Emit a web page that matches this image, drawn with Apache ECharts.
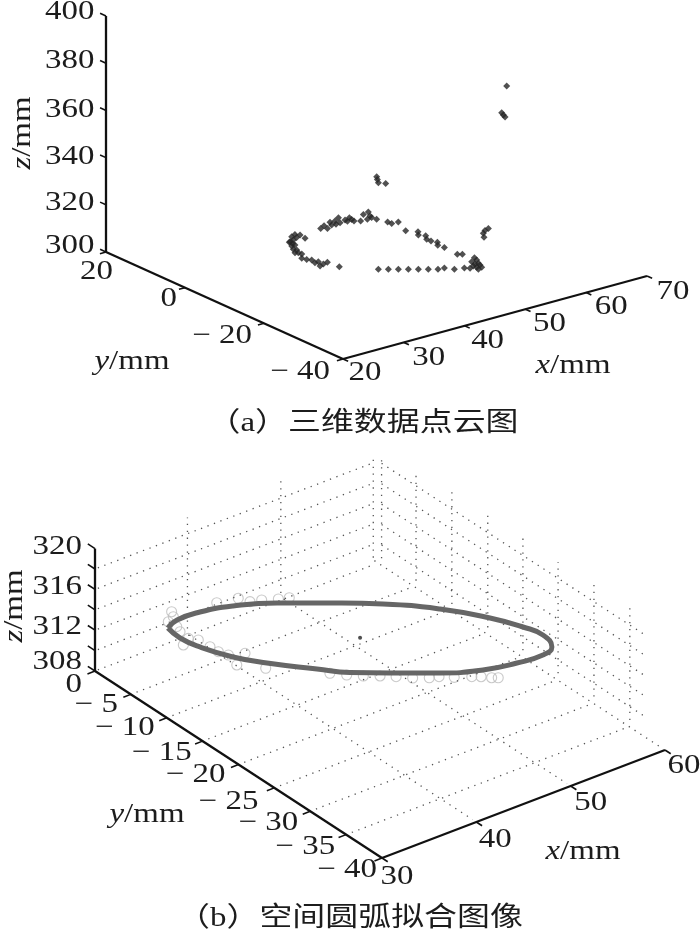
<!DOCTYPE html>
<html><head><meta charset="utf-8">
<style>html,body{margin:0;padding:0;background:#fff}#c{width:700px;height:935px}</style>
<script src="https://cdn.jsdelivr.net/npm/echarts@6/dist/echarts.min.js"></script>
</head><body><div id="c"></div>
<script>
// ---------- data (x mm, y mm, z mm) ----------
const cloudUpperArc=[[49.53,-0.96,312],[48.49,-1.30,312],[48.80,-2.52,312],[47.77,-3.42,312],[48.66,-3.14,312],[48.72,-4.31,312],[46.70,-3.37,312],[46.02,-2.73,312],[46.16,-1.93,312],[46.30,-1.13,312],[45.27,-2.22,312],[45.33,-1.53,312],[45.18,-0.08,312],[44.21,-1.99,312],[43.42,-2.18,312],[44.07,-0.92,312],[43.26,-0.91,312],[42.82,-2.00,312],[41.63,-2.76,312],[41.89,-1.51,312],[40.94,-2.12,312]];
const cloudDescending=[[49.24,-6.29,312],[49.35,-7.15,312],[50.34,-7.31,312],[49.13,-11.04,312],[50.16,-12.57,312],[49.44,-13.77,312],[50.04,-14.70,312],[49.31,-16.07,312],[49.37,-17.07,312],[49.72,-18.14,312],[49.08,-19.22,312],[49.30,-20.56,312],[49.04,-24.24,312],[49.56,-24.72,312]];
const cloudCorner=[[50.04,-27.03,312],[49.75,-28.06,312],[48.85,-28.17,312],[49.16,-29.39,312],[48.66,-29.31,312],[48.95,-30.13,312],[48.04,-29.85,312],[48.08,-30.62,312],[48.59,-31.10,312],[47.80,-31.48,312],[47.17,-30.34,312],[46.66,-29.69,312]];
const cloudBottomRow=[[37.55,-21.94,312],[38.57,-22.90,312],[39.60,-23.85,312],[40.62,-24.81,312],[41.65,-25.76,312],[42.67,-26.71,312],[43.66,-27.64,312],[44.61,-27.78,312],[45.34,-29.19,312]];
const cloudLeftArc=[[37.07,-4.12,312],[37.31,-2.48,312],[36.94,-1.76,312],[36.07,-2.27,312],[36.43,-2.97,312],[34.77,-3.86,312],[35.49,-3.58,312],[34.66,-4.69,312],[34.55,-4.02,312],[33.96,-5.53,312],[34.52,-5.49,312],[33.37,-6.84,312],[33.56,-7.40,312],[32.78,-8.17,312],[33.12,-8.49,312],[33.17,-9.28,312],[32.19,-10.79,312],[32.47,-11.62,312],[32.83,-12.32,312],[32.56,-13.57,312],[33.13,-13.54,312],[32.33,-15.22,312],[33.12,-14.84,312],[33.91,-14.64,312],[34.15,-17.29,312]];
const cloudOutliers=[[66.59,-9.73,360],[60.02,-18.57,360],[59.66,-19.55,360],[59.38,-20.41,360],[46.08,-8.38,335],[45.54,-9.39,335],[44.89,-10.64,335],[45.49,-11.57,335],[53.84,-24.72,320],[53.04,-25.10,320],[52.19,-25.98,320],[51.35,-27.44,320]];
const fittedRing=[[35.10,-3.46,312],[36.53,-2.85,312],[38.88,-2.95,312],[41.71,-3.84,312],[44.96,-5.70,312],[49.17,-8.95,312],[51.94,-11.29,312],[55.24,-14.91,312],[57.66,-18.69,312],[58.94,-21.60,312],[59.45,-23.71,312],[58.82,-25.79,312],[57.40,-26.41,312],[54.84,-26.15,312],[51.85,-25.34,312],[48.68,-23.54,312],[45.33,-20.96,312],[42.70,-18.84,312],[40.86,-16.66,312],[38.13,-13.28,312],[36.48,-10.72,312],[35.29,-7.67,312],[34.89,-5.43,312],[35.10,-3.46,312]];
const measuredPoints=[[40.96,-2.56,312],[42.85,-3.07,312],[43.29,-4.13,312],[44.24,-4.51,312],[45.46,-5.23,312],[46.32,-5.62,312],[37.02,-1.45,312],[36.62,-2.21,312],[35.77,-2.63,312],[35.83,-3.73,312],[35.53,-4.58,312],[35.40,-5.90,312],[35.90,-6.64,312],[34.39,-6.54,312],[35.99,-8.15,312],[36.04,-9.25,312],[36.37,-10.21,312],[37.66,-10.84,312],[35.91,-11.99,312],[37.51,-13.92,312],[41.28,-17.91,312],[42.23,-19.00,312],[43.24,-19.99,312],[44.36,-20.85,312],[45.36,-21.77,312],[46.33,-22.80,312],[47.47,-23.62,312],[48.23,-23.98,312],[49.18,-24.85,312],[50.42,-25.67,312],[51.04,-26.15,312],[51.64,-26.83,312],[52.08,-27.17,312]];
const ringCenter=[[46.95,-14.66,312]];
// tick values and labels
const aZTicks=[300,320,340,360,380,400], aYTicks=[20,0,-20,-40], aXTicks=[20,30,40,50,60,70];
const bZTicks=[308,310,312,314,316,318,320], bYTicks=[0,-5,-10,-15,-20,-25,-30,-35,-40], bXTicks=[30,40,50,60];
const bZLabelled=[308,312,316,320];
const captionA='（a）三维数据点云图', captionB='（b）空间圆弧拟合图像';
// grid positions of panel (b)
const wallZ=[310,312,314,316,318];
const floorY=[0,-5,-10,-15,-20,-25,-30,-35];
const floorX=[40,50,60];
const rightWallY=[-0.5,-5.3,-10.3,-15.3,-20.2,-25.1,-30.1,-35.1];
const rightWallTop=[318.4,319.3,319.7,319.7,319.7,319.6,319.7,319.8];
const leftWallX=[39.8,49.7,59.5];
const leftWallTop=[319.6,319.9,318.4];

// ---------- view projections of the two 3-D boxes ----------
const viewA={o:[343,359],b:[20,-40,300],x:[6.08,-1.66],y:[-3.95,-1.783],z:[0,-2.36]};
const viewB={o:[382,858],b:[30,-40,308],x:[9.433,-3.6],y:[-7.175,-4.675],z:[0,-10.2]};
const proj=(v,p)=>{const a=p[0]-v.b[0],b=p[1]-v.b[1],c=p[2]-v.b[2];
  return [v.o[0]+a*v.x[0]+b*v.y[0]+c*v.z[0], v.o[1]+a*v.x[1]+b*v.y[1]+c*v.z[1]];};

const series=[];
const seg=(v,p,q,style)=>series.push({type:'line',silent:true,symbol:'none',animation:false,data:[proj(v,p),proj(v,q)],lineStyle:style});
const DOT={color:'#555',width:1.3,type:[1.3,5.6]};
const SOLID={color:'#111',width:2.3};
const TICK={color:'#111',width:1.6};

// panel (b) dotted box
floorY.forEach(y=>seg(viewB,[y===0?30.3:30.6,y,308],[59.5,y,308],DOT));
floorX.forEach(x=>seg(viewB,[x,x===60?0.5:0,308],[x,-39.5,308],DOT));
wallZ.forEach(z=>{seg(viewB,[30.3,0,z],[59.5,0,z],DOT);seg(viewB,[60,-0.5,z],[60,-37.2,z],DOT);});
rightWallY.forEach((y,i)=>seg(viewB,[60,y,308.7],[60,y,rightWallTop[i]],DOT));
leftWallX.forEach((x,i)=>seg(viewB,[x,0,308.7],[x,0,leftWallTop[i]],DOT));

// axes panel (a)
seg(viewA,[20,20,300],[20,20,400],SOLID);seg(viewA,[20,20,300],[20,-40,300],SOLID);seg(viewA,[20,-40,300],[70,-40,300],SOLID);
aZTicks.forEach(z=>seg(viewA,[20,20,z],[20,21.5,z],TICK));
aYTicks.forEach(y=>seg(viewA,[20,y,300],[19,y,300],TICK));
aXTicks.forEach(x=>seg(viewA,[x,-40,300],[x,-41.3,300],TICK));
// axes panel (b)
seg(viewB,[30,0,308],[30,0,320],SOLID);seg(viewB,[30,0,308],[30,-40,308],SOLID);seg(viewB,[30,-40,308],[60,-40,308],SOLID);
bZTicks.forEach(z=>seg(viewB,[30,0,z],[30,1,z],TICK));
bYTicks.forEach(y=>seg(viewB,[30,y,308],[29.2,y,308],TICK));
bXTicks.forEach(x=>seg(viewB,[x,-40,308],[x,-40.8,308],TICK));

// point cloud
[cloudUpperArc,cloudDescending,cloudCorner,cloudBottomRow,cloudLeftArc,cloudOutliers].forEach(d=>series.push({
  type:'scatter',silent:true,animation:false,symbol:'diamond',symbolSize:7,
  itemStyle:{color:'#262626'},data:d.map(p=>proj(viewA,p))}));
// measured points, fitted ring, centre
series.push({type:'scatter',silent:true,animation:false,symbol:'circle',symbolSize:10,
  itemStyle:{color:'rgba(255,255,255,0)',borderColor:'#bdbdbd',borderWidth:1.1},data:measuredPoints.map(p=>proj(viewB,p))});
series.push({type:'line',silent:true,animation:false,symbol:'none',smooth:0.5,
  lineStyle:{color:'#666',width:5},data:fittedRing.map(p=>proj(viewB,p))});
series.push({type:'scatter',silent:true,animation:false,symbol:'circle',symbolSize:4,
  itemStyle:{color:'#222'},data:ringCenter.map(p=>proj(viewB,p))});

// ---------- text ----------
const FF='"Liberation Serif","Noto Sans CJK SC"';
const SX=1.22;
function texts(items){ // items: {at:[px,py],text,align,rot}
  series.push({type:'custom',silent:true,animation:false,coordinateSystem:'cartesian2d',
    data:items.map(t=>t.at),
    renderItem:(params,api)=>{
      const t=items[params.dataIndex], c=api.coord([api.value(0),api.value(1)]);
      return {type:'text',x:c[0],y:c[1],rotation:t.rot||0,scaleX:t.sx||SX,
        style:{text:t.text,fontFamily:FF,fontSize:t.size||27,fill:'#1c1c1c',align:t.align||'center',verticalAlign:'middle',
          rich:{i:{fontFamily:FF,fontSize:t.size||27,fontStyle:'italic',fill:'#1c1c1c'},r:{fontFamily:FF,fontSize:t.size||27,fill:'#1c1c1c'}}}};
    }});
}
const off=(v,p,d)=>{const q=proj(v,p);return [q[0]+d[0],q[1]+d[1]];};
const minus=v=>v<0?'− '+(-v):String(v);
const aZOff=[[-11.5,-6],[-11.5,-2],[-11.5,-1],[-11.5,-1],[-11.5,-2],[-11.5,-4]];
const aYOff=[[7,20],[-8,11],[-12,13],[-13,13]];
const aXOff=[[22,14],[25,16],[23,15],[24,15],[25,14],[26,16]];
const bZOff=[[-13,-9],[-13,-3],[-13,-2],[-13,-2]];
const bYOff=[[-13,14],[-13,11],[-12,10],[-11,12],[-13,10],[-16,14],[-12,12],[-11,12],[-5,12]];
const bXOff=[[15,19],[19,18],[20,17],[19,16]];
const items=[];
aZTicks.forEach((z,i)=>items.push({at:off(viewA,[20,20,z],aZOff[i]),text:String(z),align:'right'}));
aYTicks.forEach((y,i)=>items.push({at:off(viewA,[20,y,300],aYOff[i]),text:minus(y),align:'right'}));
aXTicks.forEach((x,i)=>items.push({at:off(viewA,[x,-40,300],aXOff[i]),text:String(x)}));
bZLabelled.forEach((z,i)=>items.push({at:off(viewB,[30,0,z],bZOff[i]),text:String(z),align:'right'}));
bYTicks.forEach((y,i)=>items.push({at:off(viewB,[30,y,308],bYOff[i]),text:minus(y),align:'right'}));
bXTicks.forEach((x,i)=>items.push({at:off(viewB,[x,-40,308],bXOff[i]),text:String(x)}));
items.push({at:[23,133],text:'{i|z}{r|/mm}',rot:Math.PI/2});
items.push({at:[132,362],text:'{i|y}{r|/mm}'});
items.push({at:[573,366],text:'{i|x}{r|/mm}'});
items.push({at:[15,606],text:'{i|z}{r|/mm}',rot:Math.PI/2});
items.push({at:[147,815],text:'{i|y}{r|/mm}'});
items.push({at:[583,852],text:'{i|x}{r|/mm}'});
items.push({at:[363,424],text:captionA});
items.push({at:[350,919],text:captionB});
texts(items);

const chart=echarts.init(document.getElementById('c'),null,{renderer:'canvas'});
chart.setOption({animation:false,backgroundColor:'#fff',
  grid:{left:0,right:0,top:0,bottom:0},
  xAxis:{type:'value',min:0,max:700,show:false},
  yAxis:{type:'value',min:0,max:935,inverse:true,show:false},
  series});
</script></body></html>
